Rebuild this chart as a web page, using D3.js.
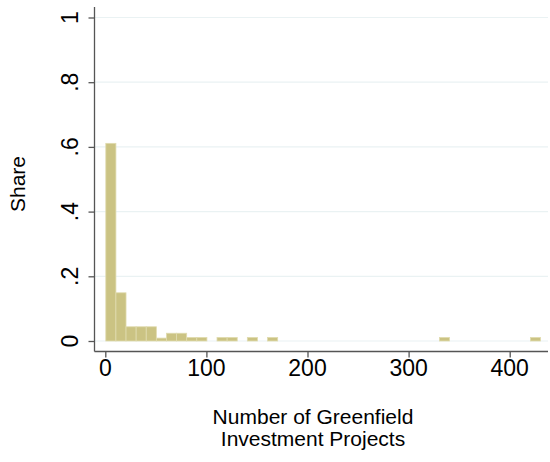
<!DOCTYPE html>
<html>
<head>
<meta charset="utf-8">
<script src="https://cdn.jsdelivr.net/npm/d3@7"></script>
<style>
  body { margin: 0; background: #fff; }
  text { font-family: "Liberation Sans", Arial, sans-serif; fill: #000; }
</style>
</head>
<body>
<div id="chart"></div>
<script>
// histogram bins: lower edge of each non-empty bin, bin width 10
const binLower = [0.5, 10.5, 20.5, 30.5, 40.5, 50.5, 60.5, 70.5, 80.5, 90.5,
                  110.5, 120.5, 140.5, 160.5, 330.5, 420.5];
const shares   = [0.611, 0.149, 0.044, 0.044, 0.044, 0.009, 0.024, 0.024, 0.011, 0.011,
                  0.011, 0.011, 0.011, 0.011, 0.011, 0.011];
const binWidth = 10;
const xTicks = [0, 100, 200, 300, 400];
const yTicks = [0, 0.2, 0.4, 0.6, 0.8, 1];
const yTickLabels = ['0', '.2', '.4', '.6', '.8', '1'];

const W = 550, H = 462;
const plotLeft = 94.5, plotRight = 548, plotBottom = 351.5, plotTop = 7;

const svg = d3.select('#chart').append('svg')
  .attr('width', W)
  .attr('height', H);

const x = d3.scaleLinear().domain([0, 400]).range([105.3, 509.7]);
const y = d3.scaleLinear().domain([0, 1]).range([341, 17.5]);

// gridlines
svg.append('g')
  .selectAll('line')
  .data(yTicks)
  .join('line')
  .attr('x1', plotLeft)
  .attr('x2', plotRight)
  .attr('y1', d => y(d))
  .attr('y2', d => y(d))
  .attr('stroke', '#eaf2f3')
  .attr('stroke-width', 1.2);

// bars
svg.append('g')
  .selectAll('rect')
  .data(binLower.map((b, i) => ({ b, s: shares[i] })))
  .join('rect')
  .attr('x', d => x(d.b))
  .attr('width', d => x(d.b + binWidth) - x(d.b))
  .attr('y', d => y(d.s))
  .attr('height', d => y(0) - y(d.s))
  .attr('fill', '#cbc383')
  .attr('stroke', '#e0dbaf')
  .attr('stroke-width', 0.8);

// y axis
const yAxis = svg.append('g')
  .attr('transform', `translate(${plotLeft},0)`)
  .call(d3.axisLeft(y).tickValues(yTicks).tickSize(6).tickFormat(''));
yAxis.select('.domain').attr('d', `M0,${plotTop}V${plotBottom}`).attr('stroke', '#555').attr('stroke-width', 1.3);
yAxis.selectAll('.tick line').attr('stroke', '#555').attr('stroke-width', 1.3);

svg.append('g')
  .selectAll('text')
  .data(yTicks)
  .join('text')
  .attr('transform', (d) => `translate(78,${y(d)}) rotate(-90)`)
  .attr('text-anchor', 'middle')
  .style('font-size', '23px')
  .text((d, i) => yTickLabels[i]);

// x axis
const xAxis = svg.append('g')
  .attr('transform', `translate(0,${plotBottom})`)
  .call(d3.axisBottom(x).tickValues(xTicks).tickSize(6).tickFormat(''));
xAxis.select('.domain').attr('d', `M${plotLeft},0H${plotRight}`).attr('stroke', '#555').attr('stroke-width', 1.3);
xAxis.selectAll('.tick line').attr('stroke', '#555').attr('stroke-width', 1.3);

svg.append('g')
  .selectAll('text')
  .data(xTicks)
  .join('text')
  .attr('x', d => x(d))
  .attr('y', 376)
  .attr('text-anchor', 'middle')
  .style('font-size', '23px')
  .text(d => d);

// titles
svg.append('text')
  .attr('transform', 'translate(25,184) rotate(-90)')
  .attr('text-anchor', 'middle')
  .style('font-size', '21px')
  .text('Share');

svg.append('text')
  .attr('x', 313)
  .attr('y', 424)
  .attr('text-anchor', 'middle')
  .style('font-size', '21px')
  .text('Number of Greenfield');

svg.append('text')
  .attr('x', 313)
  .attr('y', 446)
  .attr('text-anchor', 'middle')
  .style('font-size', '21px')
  .text('Investment Projects');
</script>
</body>
</html>
